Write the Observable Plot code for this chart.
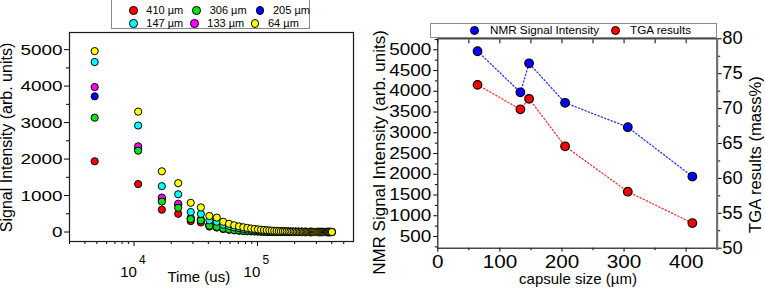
<!DOCTYPE html>
<html>
<head>
<meta charset="utf-8">
<script src="https://cdn.jsdelivr.net/npm/d3@7"></script>
<script src="https://cdn.jsdelivr.net/npm/@observablehq/plot@0.6"></script>
<style>
  html, body { margin: 0; padding: 0; background: #fff; }
  #chart { position: relative; width: 765px; height: 289px; overflow: hidden; font-family: "Liberation Sans", Arial, sans-serif; }
  #chart svg { position: absolute; top: 0; overflow: visible; }
  .legend { position: absolute; box-sizing: border-box; border: 1px solid #8a8a8a; background: #fff; }
  .lg-text { position: absolute; white-space: nowrap; line-height: 1; color: #000; transform: translateY(-50%); }
  .lg-dot { position: absolute; box-sizing: border-box; border: 1px solid #000; border-radius: 50%; }
</style>
</head>
<body>
<div id="chart"></div>
<script>
// ---------- Left panel data: signal decay vs time ----------
const times = [4800, 10800, 16800, 22800, 28800, 34800, 40800, 46800, 52800, 58800,
  64800, 70800, 76800, 82800, 88800, 94800, 100800, 106800, 112800, 118800,
  124800, 130800, 136800, 142800, 148800, 154800, 160800, 166800, 172800, 178800,
  184800, 190800, 196800, 202800, 208800, 214800, 220800, 226800, 232800, 238800,
  244800, 250800, 256800, 262800, 268800, 274800, 280800, 286800, 292800, 298800,
  304800, 310800, 316800, 322800, 328800, 334800, 340800, 346800, 352800, 358800,
  364800, 370800, 376800, 382800, 388800, 394800, 400800];

const s410 = [1940, 1315, 612, 500, 300, 262, 150, 122, 82, 62,
  46, 36, 29, 23, 19, 16, 13, 11, 9, 8,
  7, 6, 5, 4, 4, 3, 3, 3, 2, 2,
  2, 2, 1, 1, 1, 1, 1, 1, 1, 0,
  0, 0, 0, 0, 0, 0, 0, 0, 0, 0,
  0, 0, 0, 0, 0, 0, 0, 0, 0, 0,
  0, 0, 0, 0, 0, 0, 0];
const s306 = [3135, 2230, 835, 665, 355, 318, 172, 140, 95, 70,
  52, 42, 34, 28, 23, 19, 16, 13, 11, 10,
  8, 7, 6, 5, 5, 4, 4, 3, 3, 3,
  2, 2, 2, 2, 1, 1, 1, 1, 1, 1,
  1, 0, 0, 0, 0, 0, 0, 0, 0, 0,
  0, 0, 0, 0, 0, 0, 0, 0, 0, 0,
  0, 0, 0, 0, 0, 0, 0];
const s205 = [3720, 2290, 905, 745, 370, 325, 195, 165, 115, 92,
  72, 58, 48, 40, 34, 28, 24, 20, 17, 15,
  13, 11, 10, 8, 7, 6, 6, 5, 4, 4,
  3, 3, 3, 2, 2, 2, 2, 1, 1, 1,
  1, 1, 1, 1, 0, 0, 0, 0, 0, 0,
  0, 0, 0, 0, 0, 0, 0, 0, 0, 0,
  0, 0, 0, 0, 0, 0, 0];
const s147 = [4660, 2920, 1258, 1035, 550, 495, 320, 280, 200, 165,
  128, 105, 87, 73, 62, 53, 45, 39, 34, 29,
  25, 22, 19, 16, 14, 12, 11, 10, 9, 8,
  7, 6, 5, 5, 4, 4, 3, 3, 3, 2,
  2, 2, 2, 1, 1, 1, 1, 1, 1, 1,
  1, 0, 0, 0, 0, 0, 0, 0, 0, 0,
  0, 0, 0, 0, 0, 0, 0];
const s133 = [3975, 2350, 945, 775, 385, 340, 205, 175, 120, 98,
  76, 62, 51, 43, 36, 30, 26, 22, 19, 16,
  14, 12, 10, 9, 8, 7, 6, 5, 5, 4,
  4, 3, 3, 3, 2, 2, 2, 2, 1, 1,
  1, 1, 1, 1, 1, 0, 0, 0, 0, 0,
  0, 0, 0, 0, 0, 0, 0, 0, 0, 0,
  0, 0, 0, 0, 0, 0, 0];
const s64 = [4960, 3300, 1665, 1340, 800, 675, 440, 395, 280, 225,
  185, 155, 130, 112, 96, 84, 73, 64, 56, 49,
  43, 38, 33, 29, 26, 23, 20, 18, 16, 14,
  12, 11, 10, 9, 8, 7, 6, 6, 5, 5,
  4, 4, 4, 3, 3, 3, 3, 2, 2, 2,
  2, 2, 2, 1, 1, 1, 1, 1, 1, 1,
  1, 1, 0, 0, 0, 0, 0];

const sizeLabels = ["410 µm", "306 µm", "205 µm", "147 µm", "133 µm", "64 µm"];
const seriesValues = [s410, s306, s205, s147, s133, s64];
const seriesColors = ["#ff0000", "#14e014", "#0000ff", "#00ffff", "#ff00ff", "#ffff00"];
const drawOrder = [0, 2, 4, 1, 3, 5];

const yMajorTicks = [0, 1000, 2000, 3000, 4000, 5000];
const yMinorTicks = [500, 1500, 2500, 3500, 4500];
const xMajorTicks = [10000, 100000];
const xTickBase = ["10", "10"];
const xTickExp = ["4", "5"];
const xMinorTicks = [3000, 4000, 5000, 6000, 7000, 8000, 9000, 20000, 30000, 40000, 50000, 60000, 70000, 80000, 90000, 200000, 300000, 400000, 500000];

const leftYTitle = "Signal Intensity (arb. units)";
const leftXTitle = "Time (us)";

// ---------- Right panel data ----------
const capsuleSizes = [64, 133, 147, 205, 306, 410];
const nmrIntensity = [4965, 3975, 4675, 3722, 3135, 1945];
const tgaResults = [73.4, 69.9, 71.4, 64.6, 58.1, 53.6];

const nmrMajor = [500, 1000, 1500, 2000, 2500, 3000, 3500, 4000, 4500, 5000];
const nmrMinor = [250, 750, 1250, 1750, 2250, 2750, 3250, 3750, 4250, 4750, 5250];
const capMajor = [0, 100, 200, 300, 400];
const capMinor = [50, 150, 250, 350, 450];
const capTop = [0, 50, 100, 150, 200, 250, 300, 350, 400, 450];
const tgaMajor = [50, 55, 60, 65, 70, 75, 80];
const tgaMinor = [52.5, 57.5, 62.5, 67.5, 72.5, 77.5];

const nmrTitle = "NMR Signal Intensity (arb. units)";
const tgaTitle = "TGA results (mass%)";
const capTitle = "capsule size (µm)";
const rightLegendLabels = ["NMR Signal Intensity", "TGA results"];
const rightLegendColors = ["#0000ff", "#ff0000"];

// ---------- build tables ----------
const decayRows = [];
for (const s of drawOrder) {
  times.forEach((t, i) => decayRows.push({t, v: seriesValues[s][i], size: sizeLabels[s]}));
}
const nmrRows = capsuleSizes.map((c, i) => ({size: c, value: nmrIntensity[i]}));
const tgaRows = capsuleSizes.map((c, i) => ({size: c, value: tgaResults[i]}));

const font = '"Liberation Sans", Arial, sans-serif';
const baseStyle = {fontFamily: font, background: "transparent", overflow: "visible"};
const plain = d => String(d);
const noText = () => "";
const mid = {textAnchor: "middle", lineAnchor: "middle"};

const leftPlot = Plot.plot({
  width: 380, height: 289,
  marginLeft: 69, marginRight: 27, marginTop: 32, marginBottom: 48,
  style: baseStyle,
  x: {type: "log", domain: [3000, 600000]},
  y: {domain: [-260, 5470]},
  color: {domain: sizeLabels, range: seriesColors},
  marks: [
    Plot.axisY(yMajorTicks, {anchor: "left", tickSize: 5, tickPadding: 2, fontSize: 15.5, tickFormat: plain, label: null}),
    Plot.axisY(yMinorTicks, {anchor: "left", tickSize: 3, tickFormat: noText, label: null}),
    Plot.axisX(xMajorTicks, {anchor: "bottom", tickSize: 5, tickFormat: noText, label: null}),
    Plot.axisX(xMinorTicks, {anchor: "bottom", tickSize: 3, tickFormat: noText, label: null}),
    Plot.text(xMajorTicks, {x: d => d, frameAnchor: "bottom", text: (d, i) => xTickBase[i], ...mid, dx: -5.5, dy: 31, fontSize: 15, ariaLabel: "x-tick-base"}),
    Plot.text(xMajorTicks, {x: d => d, frameAnchor: "bottom", text: (d, i) => xTickExp[i], textAnchor: "start", lineAnchor: "middle", dx: 5, dy: 18.2, fontSize: 12}),
    Plot.dot(decayRows, {x: "t", y: "v", fill: "size", stroke: "#000", strokeWidth: 1, r: 3.6}),
    Plot.frame({stroke: "#1a1a1a", strokeWidth: 1.2}),
    Plot.text([leftYTitle], {frameAnchor: "left", text: d => d, ...mid, rotate: -90, dx: -63, dy: 0.5, fontSize: 16}),
    Plot.text([leftXTitle], {frameAnchor: "bottom", text: d => d, ...mid, dx: -12.7, dy: 36, fontSize: 15})
  ]
});

const rightDims = {width: 385, height: 289, marginLeft: 57.3, marginRight: 48.3, marginTop: 38.3, marginBottom: 41.3};

const rightA = Plot.plot({
  ...rightDims,
  style: baseStyle,
  x: {domain: [0, 450]},
  y: {domain: [218, 5265]},
  marks: [
    Plot.axisY(nmrMajor, {anchor: "left", tickSize: 4, tickPadding: 2.6, fontSize: 16, tickFormat: plain, label: null}),
    Plot.axisY(nmrMinor, {anchor: "left", tickSize: 2.5, tickFormat: noText, label: null}),
    Plot.axisX(capMajor, {anchor: "bottom", tickSize: 4, tickPadding: 3.3, fontSize: 18, tickFormat: plain, label: null}),
    Plot.axisX(capMinor, {anchor: "bottom", tickSize: 2.5, tickFormat: noText, label: null}),
    Plot.axisX(capTop, {anchor: "top", tickSize: -4, tickFormat: noText, label: null}),
    Plot.frame({stroke: "#1a1a1a", strokeWidth: 1.2}),
    Plot.line(nmrRows, {x: "size", y: "value", stroke: "#2a2aff", strokeWidth: 1.3, strokeDasharray: "1.2,2.3"}),
    Plot.dot(nmrRows, {x: "size", y: "value", fill: "#0000ff", stroke: "#000", strokeWidth: 1.2, r: 4.3}),
    Plot.text([nmrTitle], {frameAnchor: "left", text: d => d, ...mid, rotate: -90, dx: -58.6, dy: 9, fontSize: 17}),
    Plot.text([capTitle], {frameAnchor: "bottom", text: d => d, ...mid, dx: 0.5, dy: 31, fontSize: 15})
  ]
});

const rightB = Plot.plot({
  ...rightDims,
  style: baseStyle,
  x: {domain: [0, 450], axis: null},
  y: {domain: [50, 80]},
  marks: [
    Plot.axisY(tgaMajor, {anchor: "right", tickSize: 4, tickPadding: 1, fontSize: 17.5, tickFormat: plain, label: null}),
    Plot.axisY(tgaMinor, {anchor: "right", tickSize: 2.5, tickFormat: noText, label: null}),
    Plot.frame({anchor: "right", stroke: "#6e6e6e", strokeWidth: 2}),
    Plot.line(tgaRows, {x: "size", y: "value", stroke: "#ff3030", strokeWidth: 1.3, strokeDasharray: "1.2,2.3"}),
    Plot.dot(tgaRows, {x: "size", y: "value", fill: "#ff0000", stroke: "#000", strokeWidth: 1.2, r: 4.3}),
    Plot.text([tgaTitle], {frameAnchor: "right", text: d => d, ...mid, rotate: -90, dx: 38, dy: 11, fontSize: 16.6})
  ]
});

// horizontally widen tick label glyphs (reference digits are wide)
function stretch(svg, label, sx) {
  d3.select(svg).selectAll(`g[aria-label="${label}"] text`).each(function () {
    const el = d3.select(this);
    let tr = el.attr("transform");
    if (!tr) {
      tr = `translate(${+el.attr("x") || 0},${+el.attr("y") || 0})`;
      el.attr("x", null).attr("y", null);
    }
    el.attr("transform", `${tr} scale(${sx},1)`);
  });
}
stretch(leftPlot, "y-axis tick label", 1.22);
stretch(leftPlot, "x-tick-base", 1.12);
stretch(rightA, "y-axis tick label", 1.18);
stretch(rightA, "x-axis tick label", 1.15);
stretch(rightB, "y-axis tick label", 1.05);

const chart = document.getElementById("chart");
leftPlot.style.left = "0px";
rightA.style.left = "380px";
rightB.style.left = "380px";
chart.appendChild(leftPlot);
chart.appendChild(rightA);
chart.appendChild(rightB);

// ---------- legends ----------
function makeLegend(box, items, fontSize, dotSize) {
  const div = document.createElement("div");
  div.className = "legend";
  Object.assign(div.style, {left: box.x + "px", top: box.y + "px", width: box.w + "px", height: box.h + "px"});
  chart.appendChild(div);
  for (const it of items) {
    const dot = document.createElement("div");
    dot.className = "lg-dot";
    Object.assign(dot.style, {
      left: (it.cx - box.x - 1 - dotSize / 2) + "px", top: (it.cy - box.y - 1 - dotSize / 2) + "px",
      width: dotSize + "px", height: dotSize + "px", background: it.color
    });
    div.appendChild(dot);
    const tx = document.createElement("div");
    tx.className = "lg-text";
    tx.textContent = it.label;
    Object.assign(tx.style, {left: (it.tx - box.x - 1) + "px", top: (it.cy - box.y - 1) + "px", fontSize: fontSize + "px"});
    div.appendChild(tx);
  }
}
const leftLegendDotX = [133.3, 196.7, 260, 133.3, 194.3, 255];
const leftLegendDotY = [10.3, 10.3, 10.3, 23.3, 23.3, 23.3];
makeLegend({x: 111, y: -1, w: 199, h: 30.3},
  sizeLabels.map((label, i) => ({label, color: seriesColors[i], cx: leftLegendDotX[i], cy: leftLegendDotY[i], tx: leftLegendDotX[i] + 13})),
  11, 8.6);
const rightLegendDotX = [474.3, 615];
const rightLegendTextX = [490, 630];
makeLegend({x: 430, y: 22.7, w: 287.3, h: 15},
  rightLegendLabels.map((label, i) => ({label, color: rightLegendColors[i], cx: rightLegendDotX[i], cy: 30.3, tx: rightLegendTextX[i]})),
  11.7, 9);
</script>
</body>
</html>
